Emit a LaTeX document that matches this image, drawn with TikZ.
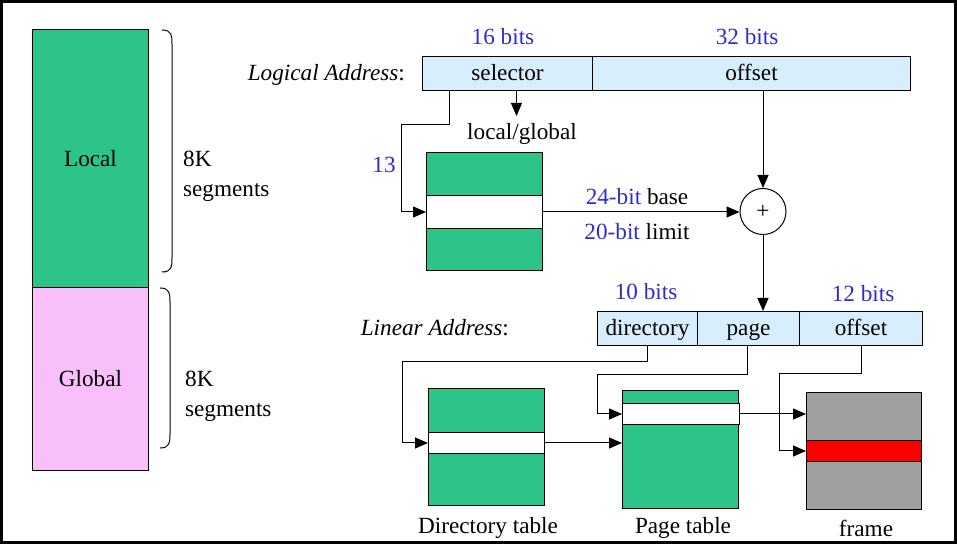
\documentclass[tikz,border=0pt]{standalone}
\usepackage{fontspec}
\setmainfont{Liberation Serif}
\usetikzlibrary{arrows.meta}

\definecolor{tabgreen}{RGB}{45,196,138}
\definecolor{segpink}{RGB}{249,191,251}
\definecolor{fieldblue}{RGB}{215,238,252}
\definecolor{framegray}{RGB}{160,160,160}
\definecolor{bitblue}{RGB}{45,45,205}

\begin{document}
\begin{tikzpicture}[x=0.5pt,y=-0.5pt,font=\fontsize{11.6}{15}\selectfont,>={Triangle[length=6.5pt,width=5.5pt]},line width=0.5pt]
\tikzset{
  box/.style={draw,inner sep=0pt,anchor=north west},
  field/.style={box,fill=fieldblue,minimum height=17pt,text height=9pt,text depth=1.5pt},
  row/.style={box,fill=white,minimum width=58pt},
  bits/.style={text=bitblue},
}
\useasboundingbox (0,0) rectangle (957,544);
\draw[line width=1.5pt] (1.5,1.5) rectangle (955.5,542.5);

% descriptor tables
\node[box,fill=tabgreen,minimum width=58pt,minimum height=129pt] (local) at (32,29) {Local};
\node[box,fill=segpink,minimum width=58pt,minimum height=91.5pt] (global) at (32,287) {Global};
\foreach \ya/\yb/\x in {30/272/162,288/448/160}
  \draw (\x,\ya) .. controls (\x+10,\ya) and (\x+10,\ya+6) .. (\x+10,\ya+14) -- (\x+10,\yb-14)
    .. controls (\x+10,\yb-6) and (\x+10,\yb) .. (\x,\yb);
\node[align=left,anchor=west] (lseg) at (176,176) {8K\\segments};
\node[align=left,anchor=west] (gseg) at (178,396) {8K\\segments};

% logical address
\node[anchor=east] (laddr) at (412,75) {\textit{Logical Address}:};
\node[field,minimum width=85pt] (sel) at (422,56) {selector};
\node[field,minimum width=159pt] (off) at (592,56) {offset};
\node[bits] (b16) at (503,37) {16 bits};
\node[bits] (b32) at (747,37) {32 bits};
\node (lg) at (522,134) {local/global};
\node[bits] (n13) at (384,165) {13};

\node[box,fill=tabgreen,minimum width=58pt,minimum height=59pt] (desc) at (426,152) {};
\node[row,minimum height=16.5pt] (descrow) at (426,195) {};
\node[draw,circle,minimum size=23pt,inner sep=0pt] (plus) at (763,211.5) {+};
\node (base) at (637,197) {\textcolor{bitblue}{24-bit} base};
\node (limit) at (637,232) {\textcolor{bitblue}{20-bit} limit};

\draw[->] ([xshift=4.5pt]sel.south) -- ++(0,25);
\draw[->] ([xshift=-29pt]sel.south) -- ++(0,34) -- ++(-48,0) |- (descrow.west);
\draw[->] (descrow.east) -- (descrow.east -| plus.west);
\draw[->] (plus.north |- off.south) -- (plus.north);

% linear address
\node[anchor=east] (linaddr) at (516,328) {\textit{Linear Address}:};
\node[field,minimum width=50pt] (dir) at (597,311) {directory};
\node[field,minimum width=51pt] (pg) at (697,311) {page};
\node[field,minimum width=61.5pt] (off2) at (799,311) {offset};
\node[bits] (b10) at (646,292) {10 bits};
\node[bits] (b12) at (863,294) {12 bits};
\draw[->] (plus.south) -- (plus.south |- pg.north);

\node[box,fill=tabgreen,minimum width=58pt,minimum height=58.5pt] (dtab) at (428,388) {};
\node[row,minimum height=10.5pt] (drow) at (428,432) {};
\node[box,fill=tabgreen,minimum width=58pt,minimum height=59pt] (ptab) at (622,390) {};
\node[row,minimum width=58.5pt,minimum height=10.5pt] (prow) at (622,403) {};
\node[box,fill=framegray,minimum width=57.5pt,minimum height=58.5pt] (frame) at (806,392) {};
\node[box,fill=red,minimum width=57.5pt,minimum height=10.5pt] (fline) at (806,440) {};

\node (dlab) at (488,528) {Directory table};
\node (plab) at (683,528) {Page table};
\node (flab) at (866,528) {frame};

\draw[->] (dir.south) -- ++(0,16) -- ++(-245,0) |- (drow.west);
\draw[->] ([xshift=-0.5pt]pg.south) -- ++(0,29) -- ++(-150,0) |- (prow.west);
\draw[->] (off2.south) -- ++(0,28) -- ++(-82,0) |- (fline.west);
\draw[->] (drow.east) -- (drow.east -| ptab.west);
\draw[->] (prow.east) -- (prow.east -| frame.west);
\end{tikzpicture}
\end{document}
